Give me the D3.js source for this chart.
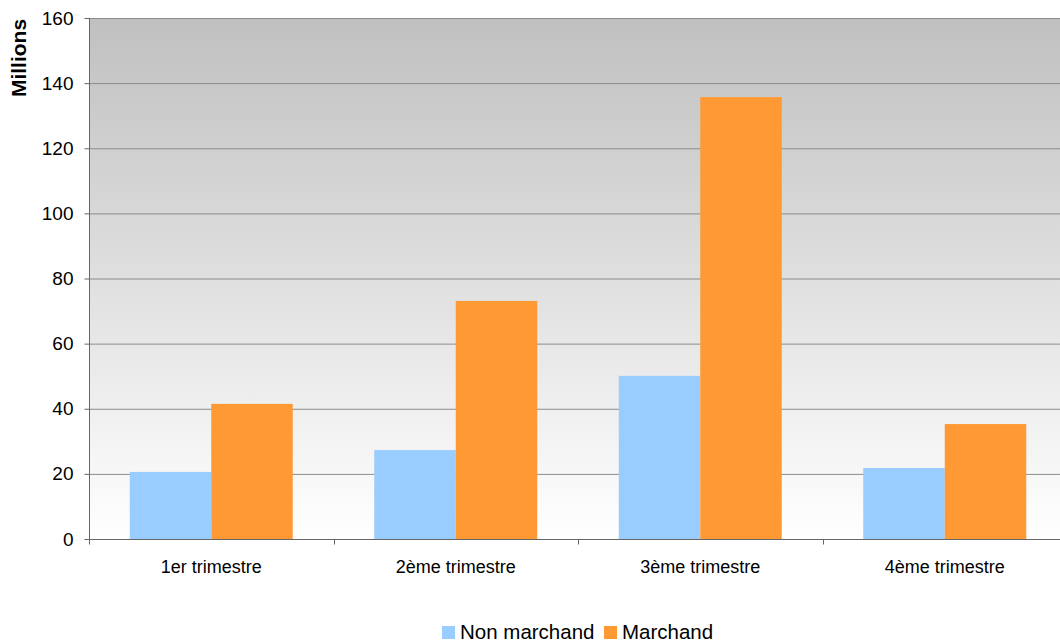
<!DOCTYPE html>
<html><head><meta charset="utf-8">
<script src="https://cdn.jsdelivr.net/npm/d3@7"></script>
<style>body{margin:0;background:#fff}svg{display:block;font-family:"Liberation Sans",Arial,sans-serif}</style>
</head><body><svg id="c" width="1060" height="644"></svg>
<script>
const categories = ["1er trimestre","2ème trimestre","3ème trimestre","4ème trimestre"];
const seriesNames = ["Non marchand","Marchand"];
const nonMarchand = [20.6, 27.3, 50.1, 21.8];
const marchand = [41.5, 73.1, 135.7, 35.3];
const yTicks = [0,20,40,60,80,100,120,140,160];
const colors = ["#99ccff","#ff9933"];

const svg = d3.select("#c");
const m = {l:89, t:18, r:1067, b:539};
const x = d3.scaleBand().domain(categories).range([m.l, m.r]);
const y = d3.scaleLinear().domain([0,160]).range([m.b, m.t]);
const defs = svg.append("defs");
const g = defs.append("linearGradient").attr("id","bg").attr("x1",0).attr("y1",0).attr("x2",0).attr("y2",1);
g.append("stop").attr("offset","0%").attr("stop-color","#c0c0c0");
g.append("stop").attr("offset","100%").attr("stop-color","#ffffff");
svg.append("rect").attr("x",m.l).attr("y",m.t).attr("width",m.r-m.l).attr("height",m.b-m.t).attr("fill","url(#bg)");
// grid
svg.append("g").selectAll("line").data(yTicks.slice(1)).join("line")
  .attr("x1",m.l).attr("x2",m.r).attr("y1",d=>y(d)+0.5).attr("y2",d=>y(d)+0.5)
  .attr("stroke","#8c8c8c").attr("stroke-width",1);
// bars
const inner = d3.scaleBand().domain(seriesNames).range([0, x.bandwidth()]).paddingOuter(0.5).paddingInner(0);
const data = [nonMarchand, marchand];
categories.forEach((c,i)=>{
  seriesNames.forEach((s,j)=>{
    const v = data[j][i];
    svg.append("rect").attr("x",x(c)+inner(s)).attr("width",inner.bandwidth())
      .attr("y",y(v)).attr("height",y(0)-y(v)).attr("fill",colors[j]);
  });
});
// y axis
const ya = svg.append("g").attr("transform",`translate(${m.l+0.5},0)`)
  .call(d3.axisLeft(y).tickValues(yTicks).tickSize(5).tickPadding(11).tickSizeOuter(0));
ya.select(".domain").attr("stroke","#666").attr("d",`M0,${m.t}V${m.b}`);
ya.selectAll(".tick line").attr("stroke","#666");
ya.selectAll("text").attr("font-size",19).attr("fill","#000").attr("font-family","Liberation Sans, Arial, sans-serif");
// x axis
const xa = svg.append("g").attr("transform",`translate(0,${m.b+0.5})`);
xa.append("line").attr("x1",m.l).attr("x2",m.r).attr("stroke","#666");
const bounds = categories.map(c=>x(c)).concat([x(categories[categories.length-1])+x.bandwidth()]);
xa.selectAll("line.t").data(bounds).join("line").attr("class","t")
  .attr("x1",d=>Math.round(d)+0.5).attr("x2",d=>Math.round(d)+0.5).attr("y1",0).attr("y2",5).attr("stroke","#666");
xa.selectAll("text").data(categories).join("text")
  .attr("x",d=>x(d)+x.bandwidth()/2).attr("y",33).attr("text-anchor","middle")
  .attr("font-size",18).attr("fill","#000").text(d=>d);
// y title
svg.append("text").attr("transform","translate(26,58) rotate(-90)").attr("text-anchor","middle")
  .attr("font-size",21).attr("font-weight","bold").text("Millions");
// legend
const leg = svg.append("g");
const items = [{n:seriesNames[0],c:colors[0],x:442},{n:seriesNames[1],c:colors[1],x:604}];
items.forEach(it=>{
  leg.append("rect").attr("x",it.x).attr("y",626).attr("width",13).attr("height",13).attr("fill",it.c);
  leg.append("text").attr("x",it.x+18).attr("y",639).attr("font-size",20.5).attr("fill","#000").text(it.n);
});
</script></body></html>
